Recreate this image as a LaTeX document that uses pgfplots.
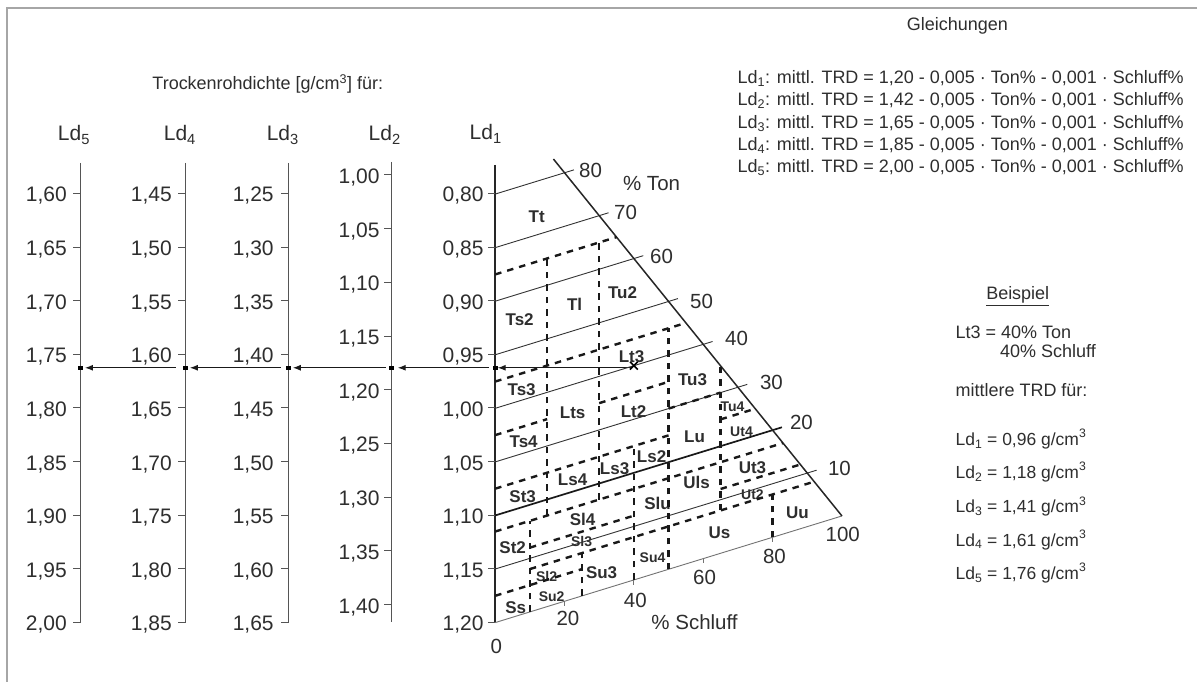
\documentclass[border=0pt]{standalone}
\usepackage{pgfplots}
\pgfplotsset{compat=1.18}
\usepackage{fontspec}
\setmainfont{Liberation Sans}
\usetikzlibrary{arrows.meta}
\definecolor{ink}{HTML}{2E2E2E}
\definecolor{scl}{HTML}{555555}
\newcommand{\fs}[1]{\fontsize{#1}{#1}\selectfont}
\newcommand{\tl}[3]{\node[anchor=base east,font=\fs{21},text=ink,inner sep=0pt] at (axis cs:#1,#2) {#3};}
\newcommand{\cl}[3]{\node[font=\fs{17}\bfseries,text=ink,inner sep=0pt] at (axis cs:#1,#2) {#3};}
\newcommand{\cs}[3]{\node[font=\fs{14}\bfseries,text=ink,inner sep=0pt] at (axis cs:#1,#2) {#3};}
\newcommand{\nl}[3]{\node[anchor=base,font=\fs{20.5},text=ink,inner sep=0pt] at (axis cs:#1,#2) {#3};}
\begin{document}
\begin{tikzpicture}
\begin{axis}[name=main, at={(0,0)}, anchor=north west, x=1pt, y=1pt, y dir=reverse,
  xmin=0, xmax=1198, ymin=0, ymax=682, hide axis, clip=false]
\addplot[fill=white, draw=none] coordinates {(0,0)(1198,0)(1198,682)(0,682)(0,0)};
\addplot[draw=gray!70, line width=1.6pt] coordinates {(1198,8)(7,8)(7,682)};
\coordinate (O) at (axis cs:495.5,623);
% ---- scale axes
\addplot[scl, line width=0.9pt] coordinates {(80.5,163)(80.5,623)};
\addplot[scl, line width=0.9pt] coordinates {(185.5,163)(185.5,623)};
\addplot[scl, line width=0.9pt] coordinates {(288.5,163)(288.5,623)};
\addplot[scl, line width=0.9pt] coordinates {(391.7,162)(391.7,622)};
\addplot[black!85, line width=1.8pt] coordinates {(495.5,165)(495.5,623)};
% ---- ticks
\addplot[scl, only marks, mark=-, mark size=3.6pt, mark options={line width=0.9pt}] coordinates {
(76.9,193.6)(76.9,247.25)(76.9,300.9)(76.9,354.55)(76.9,408.2)(76.9,461.85)(76.9,515.5)(76.9,569.15)(76.9,622.8)
(181.9,193.6)(181.9,247.25)(181.9,300.9)(181.9,354.55)(181.9,408.2)(181.9,461.85)(181.9,515.5)(181.9,569.15)(181.9,622.8)
(284.9,193.6)(284.9,247.25)(284.9,300.9)(284.9,354.55)(284.9,408.2)(284.9,461.85)(284.9,515.5)(284.9,569.15)(284.9,622.8)
(388.1,175)(388.1,228.75)(388.1,282.5)(388.1,336.25)(388.1,390)(388.1,443.75)(388.1,497.5)(388.1,551.25)(388.1,605)
(491.9,193.6)(491.9,247.25)(491.9,300.9)(491.9,354.55)(491.9,408.2)(491.9,461.85)(491.9,515.5)(491.9,569.15)(491.9,622.8)};
% ---- tick labels
\tl{67}{202.1}{1,60}\tl{67}{255.75}{1,65}\tl{67}{309.4}{1,70}\tl{67}{363.05}{1,75}\tl{67}{416.7}{1,80}\tl{67}{470.35}{1,85}\tl{67}{524}{1,90}\tl{67}{577.65}{1,95}\tl{67}{631.3}{2,00}
\tl{172}{202.1}{1,45}\tl{172}{255.75}{1,50}\tl{172}{309.4}{1,55}\tl{172}{363.05}{1,60}\tl{172}{416.7}{1,65}\tl{172}{470.35}{1,70}\tl{172}{524}{1,75}\tl{172}{577.65}{1,80}\tl{172}{631.3}{1,85}
\tl{274}{202.1}{1,25}\tl{274}{255.75}{1,30}\tl{274}{309.4}{1,35}\tl{274}{363.05}{1,40}\tl{274}{416.7}{1,45}\tl{274}{470.35}{1,50}\tl{274}{524}{1,55}\tl{274}{577.65}{1,60}\tl{274}{631.3}{1,65}
\tl{380}{183.5}{1,00}\tl{380}{237.25}{1,05}\tl{380}{291}{1,10}\tl{380}{344.75}{1,15}\tl{380}{398.5}{1,20}\tl{380}{452.25}{1,25}\tl{380}{506}{1,30}\tl{380}{559.75}{1,35}\tl{380}{613.5}{1,40}
\tl{484}{202.1}{0,80}\tl{484}{255.75}{0,85}\tl{484}{309.4}{0,90}\tl{484}{363.05}{0,95}\tl{484}{416.7}{1,00}\tl{484}{470.35}{1,05}\tl{484}{524}{1,10}\tl{484}{577.65}{1,15}\tl{484}{631.3}{1,20}
% ---- headers
\node[anchor=base,font=\fs{21},text=ink] at (axis cs:74,141) {Ld\textsubscript{5}};
\node[anchor=base,font=\fs{21},text=ink] at (axis cs:180,141) {Ld\textsubscript{4}};
\node[anchor=base,font=\fs{21},text=ink] at (axis cs:283,141) {Ld\textsubscript{3}};
\node[anchor=base,font=\fs{21},text=ink] at (axis cs:385,141) {Ld\textsubscript{2}};
\node[anchor=base,font=\fs{21},text=ink] at (axis cs:486,140) {Ld\textsubscript{1}};
\node[anchor=base,font=\fs{18},text=ink] at (axis cs:268,90) {Trockenrohdichte [g/cm\textsuperscript{3}] für:};
% ---- arrows
\addplot[black!90, line width=1.1pt, -{Latex[length=8pt,width=6pt]}] coordinates {(633,368)(498,368)};
\addplot[black!90, line width=1.1pt, -{Latex[length=8pt,width=6pt]}] coordinates {(489,368)(398,368)};
\addplot[black!90, line width=1.1pt, -{Latex[length=8pt,width=6pt]}] coordinates {(386,368)(293,368)};
\addplot[black!90, line width=1.1pt, -{Latex[length=8pt,width=6pt]}] coordinates {(281,368)(190,368)};
\addplot[black!90, line width=1.1pt, -{Latex[length=8pt,width=6pt]}] coordinates {(176,368)(85,368)};
\addplot[black, only marks, mark=square*, mark size=1.9pt] coordinates {(80.5,368)(185.5,368)(288.5,368)(391.7,368)(495.5,368)};
% ---- triangle number labels
\nl{591}{177.3}{80}\nl{626}{219.3}{70}\nl{662}{263.3}{60}\nl{702}{308.3}{50}
\nl{737}{346}{40}\nl{772}{389.3}{30}\nl{802}{430}{20}\nl{840}{476}{10}
\nl{652}{190.7}{\% Ton}
\nl{496.7}{654}{0}\nl{568.3}{626}{20}\nl{635.8}{608.3}{40}\nl{705}{585}{60}\nl{775}{564.3}{80}\nl{843.3}{541.7}{100}
\nl{695}{630}{\% Schluff}
% ---- class labels
\cl{537}{217}{Tt}\cl{520}{320}{Ts2}\cl{575}{305}{Tl}\cl{623}{293}{Tu2}\cl{632}{357}{Lt3}
\cl{522}{390}{Ts3}\cl{693}{380}{Tu3}\cl{573}{413}{Lts}\cl{634}{412}{Lt2}\cs{733}{407}{Tu4}
\cl{524}{442}{Ts4}\cl{695}{437}{Lu}\cs{742}{432}{Ut4}\cl{652}{457}{Ls2}\cl{615}{469}{Ls3}
\cl{753}{468}{Ut3}\cl{573}{480}{Ls4}\cl{697}{483}{Uls}\cl{523}{497}{St3}\cs{753}{495}{Ut2}
\cl{658}{504}{Slu}\cl{798}{513}{Uu}\cl{583}{520}{Sl4}\cs{582}{542}{Sl3}\cl{720}{533}{Us}
\cl{513}{548}{St2}\cs{653}{558}{Su4}\cl{602}{573}{Su3}\cs{547}{577}{Sl2}\cs{552}{597}{Su2}\cl{516}{608}{Ss}
% ---- equations
\node[anchor=base,font=\fs{18},text=ink] at (axis cs:958,30.5) {Gleichungen};
\node[anchor=base west,font=\fs{18},text=ink,inner sep=0pt] at (axis cs:738,83.5) {Ld\textsubscript{1}: mittl. TRD = 1,20 - 0,005 · Ton\% - 0,001 · Schluff\%};
\node[anchor=base west,font=\fs{18},text=ink,inner sep=0pt] at (axis cs:738,106) {Ld\textsubscript{2}: mittl. TRD = 1,42 - 0,005 · Ton\% - 0,001 · Schluff\%};
\node[anchor=base west,font=\fs{18},text=ink,inner sep=0pt] at (axis cs:738,128.3) {Ld\textsubscript{3}: mittl. TRD = 1,65 - 0,005 · Ton\% - 0,001 · Schluff\%};
\node[anchor=base west,font=\fs{18},text=ink,inner sep=0pt] at (axis cs:738,150.7) {Ld\textsubscript{4}: mittl. TRD = 1,85 - 0,005 · Ton\% - 0,001 · Schluff\%};
\node[anchor=base west,font=\fs{18},text=ink,inner sep=0pt] at (axis cs:738,172.9) {Ld\textsubscript{5}: mittl. TRD = 2,00 - 0,005 · Ton\% - 0,001 · Schluff\%};
% ---- example
\node[anchor=base west,font=\fs{18},text=ink,inner sep=0pt] at (axis cs:986.7,300) {\underline{Beispiel}};
\node[anchor=base west,font=\fs{18},text=ink,inner sep=0pt] at (axis cs:956,338.3) {Lt3 = 40\% Ton};
\node[anchor=base west,font=\fs{18},text=ink,inner sep=0pt] at (axis cs:1000.7,357.3) {40\% Schluff};
\node[anchor=base west,font=\fs{18},text=ink,inner sep=0pt] at (axis cs:956,396.7) {mittlere TRD für:};
\node[anchor=base west,font=\fs{17.5},text=ink,inner sep=0pt] at (axis cs:956,445.7) {Ld\textsubscript{1} = 0,96 g/cm\raisebox{1.5pt}{\textsuperscript{3}}};
\node[anchor=base west,font=\fs{17.5},text=ink,inner sep=0pt] at (axis cs:956,479) {Ld\textsubscript{2} = 1,18 g/cm\raisebox{1.5pt}{\textsuperscript{3}}};
\node[anchor=base west,font=\fs{17.5},text=ink,inner sep=0pt] at (axis cs:956,513.3) {Ld\textsubscript{3} = 1,41 g/cm\raisebox{1.5pt}{\textsuperscript{3}}};
\node[anchor=base west,font=\fs{17.5},text=ink,inner sep=0pt] at (axis cs:956,546.7) {Ld\textsubscript{4} = 1,61 g/cm\raisebox{1.5pt}{\textsuperscript{3}}};
\node[anchor=base west,font=\fs{17.5},text=ink,inner sep=0pt] at (axis cs:956,580) {Ld\textsubscript{5} = 1,76 g/cm\raisebox{1.5pt}{\textsuperscript{3}}};
\end{axis}
% ===== texture triangle: x = Schluff %, y = Ton %
\begin{axis}[at={(O)}, anchor=origin, x={(3.47pt,1.067pt)}, y={(0pt,5.36pt)},
  xmin=0, xmax=100, ymin=0, ymax=85, hide axis, clip=false,
  dashedb/.style={black!90, line width=2.4pt, dash pattern=on 6.5pt off 6pt}]
\addplot[black!55, line width=0.9pt] coordinates {(0,0)(100,0)};
\addplot[black!55, only marks, mark=|, mark size=2.4pt, mark options={line width=0.9pt}] coordinates {(20,-0.45)(40,-0.45)(60,-0.45)(80,-0.45)};
\addplot[black!80, line width=0.9pt] coordinates {(0,10)(92.7,10)};
\addplot[black!90, line width=1.7pt] coordinates {(0,20)(82.7,20)};
\addplot[black!80, line width=0.9pt] coordinates {(0,30)(72.7,30)};
\addplot[black!80, line width=0.9pt] coordinates {(0,40)(62.7,40)};
\addplot[black!80, line width=0.9pt] coordinates {(0,50)(52.7,50)};
\addplot[black!80, line width=0.9pt] coordinates {(0,60)(42.7,60)};
\addplot[black!80, line width=0.9pt] coordinates {(0,70)(32.7,70)};
\addplot[black!80, line width=0.9pt] coordinates {(0,80)(22.7,80)};
\addplot[black!85, line width=1.5pt] coordinates {(100,0)(16.8,83.2)};
% class boundaries (Ton constant)
\addplot[dashedb] coordinates {(0,65)(35,65)};
\addplot[dashedb] coordinates {(0,45)(55,45)};
\addplot[dashedb] coordinates {(0,35)(15,35)};
\addplot[dashedb] coordinates {(30,35)(50,35)};
\addplot[dashedb] coordinates {(50,30)(65,30)};
\addplot[dashedb] coordinates {(0,25)(50,25)};
\addplot[dashedb] coordinates {(65,25)(75,25)};
\addplot[dashedb] coordinates {(0,17)(83,17)};
\addplot[dashedb] coordinates {(10,12)(40,12)};
\addplot[dashedb] coordinates {(65,12)(88,12)};
\addplot[dashedb] coordinates {(10,8)(92,8)};
\addplot[dashedb] coordinates {(0,5)(25,5)};
% class boundaries (Schluff constant)
\addplot[dashedb] coordinates {(10,0)(10,17)};
\addplot[dashedb] coordinates {(15,17)(15,65)};
\addplot[dashedb] coordinates {(25,0)(25,8)};
\addplot[dashedb] coordinates {(30,17)(30,65)};
\addplot[dashedb] coordinates {(40,0)(40,25)};
\addplot[dashedb] coordinates {(50,0)(50,45)};
\addplot[dashedb] coordinates {(65,8)(65,35)};
\addplot[dashedb] coordinates {(80,0)(80,8)};
% example point Lt3: 40 % Ton, 40 % Schluff
\addplot[black, only marks, mark=x, mark size=5.5pt, mark options={line width=1.6pt}] coordinates {(40,40)};
\end{axis}
\end{tikzpicture}
\end{document}
